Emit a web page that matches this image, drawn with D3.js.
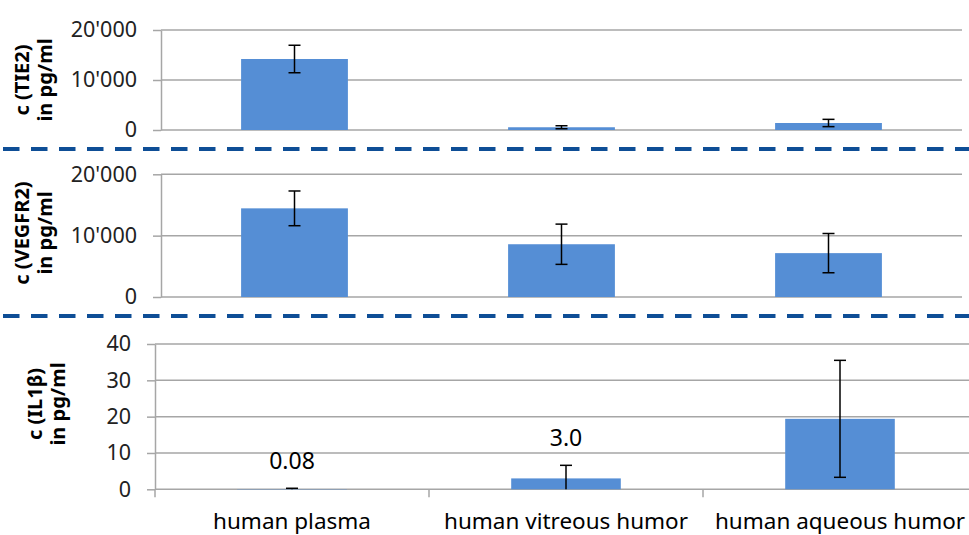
<!DOCTYPE html>
<html>
<head>
<meta charset="utf-8">
<script src="https://cdn.jsdelivr.net/npm/d3@7"></script>
<style>
  body { margin: 0; background: #fff; }
  text { font-family: "Noto Sans", "Open Sans", sans-serif; fill: #000; }
  .grid line { stroke: #a6a6a6; stroke-width: 1.5; }
  .axis path, .axis line { stroke: #a6a6a6; stroke-width: 1.5; }
  .axis text { font-size: 21.5px; fill: #222; }
  .ytitle { font-size: 20px; font-weight: bold; }
  .bar { fill: #558ed5; }
  .err { stroke: #000; stroke-width: 1.5; fill: none; }
  .sep { stroke: #0e4e96; stroke-width: 4; stroke-dasharray: 16.5 11.5; }
</style>
</head>
<body>
<script>
var categories = ["human plasma", "human vitreous humor", "human aqueous humor"];

var tie2Values = [14200, 550, 1400];
var tie2Errors = [2750, 300, 730];
var tie2Ticks = [0, 10000, 20000];

var vegfr2Values = [14450, 8600, 7150];
var vegfr2Errors = [2830, 3280, 3200];
var vegfr2Ticks = [0, 10000, 20000];

var il1bValues = [0.08, 3.0, 19.4];
var il1bErrors = [0.2, 3.6, 16.1];
var il1bLabels = ["0.08", "3.0", ""];
var il1bTicks = [0, 10, 20, 30, 40];

var width = 969, height = 535;

var svg = d3.select("body").append("svg")
  .attr("width", width).attr("height", height);

var swiss = d3.formatLocale({decimal: ".", thousands: "'", grouping: [3], currency: ["", ""]});
var fmtK = swiss.format(",");

function makePanel(p) {
  var x = d3.scaleBand().domain(categories).range([p.left, p.right]).paddingInner(0.6).paddingOuter(0.3);
  var y = d3.scaleLinear().domain([0, d3.max(p.ticks)]).range([p.bottom, p.top]);
  var g = svg.append("g");
  var rows = categories.map(function(c, i) {
    return {cat: c, v: p.values[i], e: p.errors[i], label: p.labels ? p.labels[i] : ""};
  });

  g.append("g").attr("class", "grid").selectAll("line").data(p.ticks).enter().append("line")
    .attr("x1", p.left).attr("x2", p.gridRight)
    .attr("y1", function(d) { return y(d); }).attr("y2", function(d) { return y(d); });

  var yAxis = d3.axisLeft(y).tickValues(p.ticks).tickSize(8).tickSizeOuter(0).tickPadding(p.pad)
    .tickFormat(p.fmt);
  g.append("g").attr("class", "axis").attr("transform", "translate(" + p.left + ",0)").call(yAxis);

  if (p.xTicks) {
    var bounds = [p.left].concat(x.domain().slice(1).map(function(c) { return x(c) - x.step() * x.paddingInner() / 2; }));
    g.append("g").attr("class", "axis").selectAll("line").data(bounds).enter().append("line")
      .attr("x1", function(d) { return d; }).attr("x2", function(d) { return d; })
      .attr("y1", p.bottom).attr("y2", p.bottom + 8);
    g.selectAll(".cat").data(categories).enter().append("text")
      .attr("class", "cat")
      .attr("x", function(d) { return x(d) + x.bandwidth() / 2; })
      .attr("y", 529)
      .attr("text-anchor", "middle")
      .style("font-size", "22.5px")
      .text(function(d) { return d; });
  }

  g.selectAll(".bar").data(rows).enter().append("rect")
    .attr("class", "bar")
    .attr("x", function(d) { return x(d.cat); })
    .attr("width", x.bandwidth())
    .attr("y", function(d) { return y(d.v); })
    .attr("height", function(d) { return y(0) - y(d.v); });

  var cap = 6;
  var eg = g.selectAll(".errg").data(rows).enter().append("g");
  eg.append("line").attr("class", "err")
    .attr("x1", function(d) { return x(d.cat) + x.bandwidth() / 2; })
    .attr("x2", function(d) { return x(d.cat) + x.bandwidth() / 2; })
    .attr("y1", function(d) { return y(d.v + d.e); })
    .attr("y2", function(d) { return y(Math.max(0, d.v - d.e)); });
  eg.append("line").attr("class", "err")
    .attr("x1", function(d) { return x(d.cat) + x.bandwidth() / 2 - cap; })
    .attr("x2", function(d) { return x(d.cat) + x.bandwidth() / 2 + cap; })
    .attr("y1", function(d) { return y(d.v + d.e); })
    .attr("y2", function(d) { return y(d.v + d.e); });
  eg.filter(function(d) { return d.v - d.e > 0; }).append("line").attr("class", "err")
    .attr("x1", function(d) { return x(d.cat) + x.bandwidth() / 2 - cap; })
    .attr("x2", function(d) { return x(d.cat) + x.bandwidth() / 2 + cap; })
    .attr("y1", function(d) { return y(d.v - d.e); })
    .attr("y2", function(d) { return y(d.v - d.e); });

  g.selectAll(".lbl").data(rows.filter(function(d) { return d.label; })).enter().append("text")
    .attr("x", function(d) { return x(d.cat) + x.bandwidth() / 2; })
    .attr("y", function(d) { return y(d.v + d.e) - 19; })
    .attr("text-anchor", "middle")
    .style("font-size", "23px")
    .text(function(d) { return d.label; });

  var t = g.append("text").attr("class", "ytitle")
    .attr("transform", "translate(" + p.titleX + "," + p.titleY + ") rotate(-90)")
    .attr("text-anchor", "middle");
  t.append("tspan").attr("x", 0).attr("dy", "0.35em").text(p.title[0]);
  t.append("tspan").attr("x", 0).attr("dy", 23).text(p.title[1]);
}

makePanel({values: tie2Values, errors: tie2Errors, ticks: tie2Ticks, fmt: fmtK,
  left: 161, right: 962, gridRight: 962, top: 30, bottom: 130, pad: 16,
  title: ["c (TIE2)", "in pg/ml"], titleX: 22, titleY: 80});

makePanel({values: vegfr2Values, errors: vegfr2Errors, ticks: vegfr2Ticks, fmt: fmtK,
  left: 161, right: 962, gridRight: 962, top: 174.3, bottom: 297, pad: 16,
  title: ["c (VEGFR2)", "in pg/ml"], titleX: 22, titleY: 233});

makePanel({values: il1bValues, errors: il1bErrors, ticks: il1bTicks, labels: il1bLabels, fmt: d3.format("d"),
  left: 155, right: 977, gridRight: 969, top: 344, bottom: 489.3, pad: 16, xTicks: true,
  title: ["c (IL1\u03b2)", "in pg/ml"], titleX: 35, titleY: 404});

svg.selectAll(".sep").data([149, 316]).enter().append("line")
  .attr("class", "sep")
  .attr("x1", 3).attr("x2", width)
  .attr("y1", function(d) { return d; }).attr("y2", function(d) { return d; });
</script>
</body>
</html>
